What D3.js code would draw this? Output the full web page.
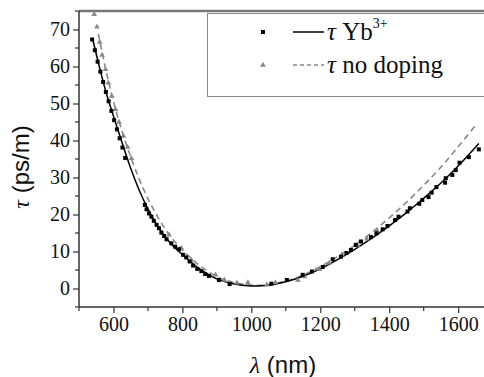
<!DOCTYPE html>
<html><head><meta charset="utf-8">
<script src="https://cdn.jsdelivr.net/npm/d3@7"></script>
<style>html,body{margin:0;padding:0;background:#fff;}svg{display:block;}
.ser{font-family:'Liberation Serif';}
.san{font-family:'Liberation Sans';}
</style>
</head><body>
<svg id="c" width="484" height="377"></svg>
<script>
// ---- data ----
const xTicks = [600, 800, 1000, 1200, 1400, 1600];
const yTicks = [0, 10, 20, 30, 40, 50, 60, 70];
const ybLambda = [538,546,554,562,570,578,586,594,602,610,618,626,634,
  691,696,703,710,717,725,732,739,747,754,768,779,790,802,811,821,831,843,855,866,877,906,937,
  1058,1103,1149,1176,1207,1236,1260,1276,1289,1303,1318,1347,1363,1381,1395,1417,1427,1453,1460,
  1487,1496,1514,1523,1537,1562,1564,1583,1593,1604,1631,1660];
const ybTau = [67.3,64.4,61.3,58.6,55.8,53.1,50.6,48.0,45.5,43.0,40.6,38.1,35.3,
  22.6,21.4,20.3,19.4,18.3,17.2,16.3,15.1,14.2,13.3,12.2,11.3,10.6,9.1,8.4,7.3,6.2,5.3,4.7,3.9,3.4,2.3,1.2,
  1.3,2.3,3.7,4.6,5.8,7.9,8.6,9.6,10.4,11.8,12.7,13.9,14.9,16.0,16.9,18.5,19.4,20.8,21.7,
  22.9,23.9,24.7,25.9,27.4,28.6,29.8,30.7,32.0,34.0,35.5,37.6];
const ndLambda = [544,552,560,567,577,585,595,606,616,629,641,652,761,797,826,896,922,958,990,1045,1070,1135,1154,1197,1226,1263,1308,1335,1365];
const ndTau = [74.1,70.7,66.6,63.1,59.2,55.6,52.0,48.4,45.0,41.2,38.2,35.2,14.5,10.9,7.7,3.7,2.3,1.5,1.6,1.0,1.6,2.3,3.2,5.2,6.9,9.1,11.6,13.4,15.6];
// fitted curves
const fitYbLambda = [540,560,580,600,625,650,675,700,725,750,775,800,850,900,950,1000,1050,1100,1150,1200,1250,1300,1350,1400,1450,1500,1550,1600,1660];
const fitYbTau = [67.3,59.6,52.5,46.6,39.4,32.5,26.5,21.5,17.3,14.0,11.3,9.2,5.3,2.6,1.2,0.7,0.9,1.8,3.3,5.3,7.8,10.6,13.6,16.9,20.5,24.4,28.5,33.1,39.2];
const fitNdLambda = [556,580,600,625,650,675,700,725,750,775,800,850,900,950,1000,1050,1100,1150,1200,1250,1300,1350,1400,1450,1500,1550,1600,1655];
const fitNdTau = [68.8,58.3,50.6,42.4,35.6,29.5,24.3,19.9,16.1,13.0,10.4,6.2,3.2,1.6,0.9,1.0,2.0,3.6,5.9,8.6,11.7,15.2,19.1,23.3,27.9,32.8,38.3,44.6];

// ---- chart ----
const svg = d3.select('#c');
const L = 79, R = 484, T = 11, B = 307;
const x = d3.scaleLinear().domain([500, 1675]).range([L, R]);
const y = d3.scaleLinear().domain([-5, 75]).range([B, T]);
const axisCol = '#333';

svg.append('clipPath').attr('id','pc').append('rect').attr('x',L).attr('y',T).attr('width',R-L).attr('height',B-T);
const plot = svg.append('g').attr('clip-path','url(#pc)');

const line = d3.line().x(d => x(d[0])).y(d => y(d[1])).curve(d3.curveCatmullRom.alpha(0.5));
plot.append('path').datum(fitNdLambda.map((v,i)=>[v, fitNdTau[i]]))
  .attr('d', line).attr('fill','none').attr('stroke','#888').attr('stroke-width',1.6).attr('stroke-dasharray','6,4');
plot.append('path').datum(fitYbLambda.map((v,i)=>[v, fitYbTau[i]]))
  .attr('d', line).attr('fill','none').attr('stroke','#000').attr('stroke-width',1.5);

const tri = d3.symbol().type(d3.symbolTriangle).size(14);
plot.selectAll('path.nd').data(ndLambda.map((v,i)=>[v, ndTau[i]])).enter().append('path')
  .attr('class','nd').attr('d', tri).attr('fill','#888')
  .attr('transform', d => `translate(${x(d[0])},${y(d[1])})`);
plot.selectAll('rect.yb').data(ybLambda.map((v,i)=>[v, ybTau[i]])).enter().append('rect')
  .attr('class','yb').attr('x', d => x(d[0]) - 2).attr('y', d => y(d[1]) - 2)
  .attr('width',4).attr('height',4).attr('fill','#000');

// top frame
svg.append('line').attr('x1',L).attr('x2',R).attr('y1',T).attr('y2',T).attr('stroke','#777').attr('stroke-width',2.5);

// axes
const xAxis = d3.axisBottom(x).tickValues(xTicks).tickSize(6).tickSizeOuter(0).tickPadding(4).tickFormat(d3.format('d'));
const gx = svg.append('g').attr('transform',`translate(0,${B})`).call(xAxis);
const xMinor = d3.range(500, 1700, 100).filter(v => !xTicks.includes(v));
gx.selectAll('line.minor').data(xMinor).enter().append('line').attr('class','minor')
  .attr('x1', d => x(d)).attr('x2', d => x(d)).attr('y1',0).attr('y2',4).attr('stroke',axisCol).attr('stroke-width',1.2);
const yAxis = d3.axisLeft(y).tickValues(yTicks).tickSize(6).tickSizeOuter(0).tickPadding(3);
const gy = svg.append('g').attr('transform',`translate(${L},0)`).call(yAxis);
const yMinor = d3.range(-5, 76, 5).filter(v => !yTicks.includes(v));
gy.selectAll('line.minor').data(yMinor).enter().append('line').attr('class','minor')
  .attr('y1', d => y(d)).attr('y2', d => y(d)).attr('x1',0).attr('x2',-4).attr('stroke',axisCol).attr('stroke-width',1.2);
[gx, gy].forEach(g => {
  g.attr('font-family', 'Liberation Serif').attr('font-size', 20);
  g.select('.domain').attr('stroke',axisCol).attr('stroke-width',1.5);
  g.selectAll('.tick line').attr('stroke',axisCol).attr('stroke-width',1.2);
  g.selectAll('.tick text').attr('class','ser').attr('font-family','Liberation Serif').attr('fill','#111');
});
gx.select('.domain').attr('d', `M${L},0H${R}`);
gy.select('.domain').attr('d', `M0,${T}V${B}`);

// axis titles
const xt = svg.append('text').attr('class','san').attr('x', 283).attr('y', 373).attr('text-anchor','middle')
  .attr('font-size',24).attr('fill','#111');
xt.append('tspan').attr('class','ser').attr('font-style','italic').text('λ');
xt.append('tspan').text(' (nm)');
const yt = svg.append('text').attr('class','san').attr('transform','translate(29,167) rotate(-90)').attr('text-anchor','middle')
  .attr('font-size',24).attr('fill','#111');
yt.append('tspan').attr('class','ser').attr('font-style','italic').text('τ');
yt.append('tspan').text(' (ps/m)');

// legend
const lg = svg.append('g');
lg.append('rect').attr('x',207.5).attr('y',13.5).attr('width',290).attr('height',83)
  .attr('fill','#fff').attr('stroke','#888').attr('stroke-width',1);
lg.append('rect').attr('x',261).attr('y',30).attr('width',4).attr('height',4).attr('fill','#000');
lg.append('line').attr('x1',293).attr('x2',324).attr('y1',32).attr('y2',32).attr('stroke','#000').attr('stroke-width',1.5);
const t1 = lg.append('text').attr('class','ser').attr('x',327).attr('y',40).attr('font-size',25).attr('fill','#111');
t1.append('tspan').attr('font-style','italic').text('τ');
t1.append('tspan').text(' Yb');
t1.append('tspan').attr('font-size',14).attr('dy',-12).text('3+');
lg.append('path').attr('d', tri).attr('fill','#888').attr('transform','translate(263,65)');
lg.append('line').attr('x1',293).attr('x2',324).attr('y1',65).attr('y2',65).attr('stroke','#888').attr('stroke-width',1.5).attr('stroke-dasharray','4,3');
const t2 = lg.append('text').attr('class','ser').attr('x',327).attr('y',73).attr('font-size',25).attr('fill','#111');
t2.append('tspan').attr('font-style','italic').text('τ');
t2.append('tspan').text(' no doping');
</script>
</body></html>
